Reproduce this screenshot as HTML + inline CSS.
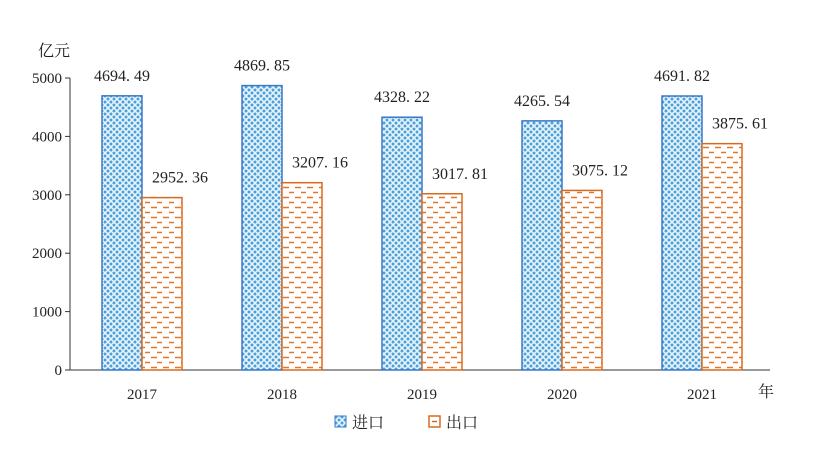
<!DOCTYPE html>
<html><head><meta charset="utf-8"><style>
body{margin:0;background:#fff;width:821px;height:451px;overflow:hidden}
svg text{font-family:"Liberation Serif","Noto Serif CJK SC",serif;fill:#222}
</style></head><body>
<svg id="c" width="821" height="451">
<defs>
<pattern id="hatch" width="6" height="6" patternUnits="userSpaceOnUse">
<rect width="6" height="6" fill="#4a9fd8"/>
<path d="M0 0L6 6M6 0L0 6" stroke="#e8f4fb" stroke-width="1.6"/>
</pattern>
<pattern id="dash" width="12" height="10" patternUnits="userSpaceOnUse">
<rect width="12" height="10" fill="#fff"/>
<path d="M1 2.5h5M7 7.5h5M0 7.5h1" stroke="#e07828" stroke-width="1.5"/>
</pattern>
</defs>
<g id="g"></g>
</svg>
<script>
const categories=["2017","2018","2019","2020","2021"];
const importVals=[4694.49,4869.85,4328.22,4265.54,4691.82];
const exportVals=[2952.36,3207.16,3017.81,3075.12,3875.61];
const yTicks=[0,1000,2000,3000,4000,5000];
const g=document.getElementById('g');
const NS='http://www.w3.org/2000/svg';
const x0=70,step=140,y0=370,yTop=78,ymax=5000;
const y=v=>y0-(v/ymax)*(y0-yTop);
const cx=i=>x0+step/2+i*step+2;
function mk(t,a,txt){const e=document.createElementNS(NS,t);for(const k in a)e.setAttribute(k,a[k]);if(txt!==undefined)e.textContent=txt;g.appendChild(e);return e;}
let e=mk('line',{x1:x0,y1:y0,x2:770,y2:y0,stroke:'#333','stroke-width':1});


e=mk('line',{x1:x0,y1:yTop,x2:x0,y2:y0,stroke:'#333','stroke-width':1});


yTicks.forEach(v=>{
 e=mk('line',{x1:x0-5,y1:y(v),x2:x0,y2:y(v),stroke:'#333'});
 
 
 e=mk('text',{x:x0-8,y:y(v)+5,'text-anchor':'end','font-size':15},String(v));
 
 
});
e=mk('text',{x:38,y:56,'font-size':16},'亿元');


e=mk('text',{x:758,y:397,'font-size':16},'年');


const fmt=v=>v.toFixed(2).replace('.','. ');
categories.forEach((c,i)=>{
 const c0=cx(i);
 e=mk('rect',{x:c0-40,y:y(importVals[i]),width:40,height:y0-y(importVals[i]),fill:'url(#hatch)',stroke:'#3a78c8','stroke-width':1.5});
 
 
 e=mk('rect',{x:c0,y:y(exportVals[i]),width:40,height:y0-y(exportVals[i]),fill:'url(#dash)',stroke:'#d86a20','stroke-width':1.5});
 
 
 e=mk('text',{x:c0-20,y:y(importVals[i])-15,'text-anchor':'middle','font-size':16},fmt(importVals[i]));
 
 
 e=mk('text',{x:c0+38,y:y(exportVals[i])-15,'text-anchor':'middle','font-size':16},fmt(exportVals[i]));
 
 
 e=mk('text',{x:c0,y:399,'text-anchor':'middle','font-size':15},c);
 
 
});
e=mk('rect',{x:335,y:416,width:11,height:11,fill:'url(#hatch)',stroke:'#3a78c8'});


e=mk('text',{x:352,y:428,'font-size':16},'进口');


e=mk('rect',{x:429,y:416,width:11,height:11,fill:'#fff',stroke:'#d86a20','stroke-width':1.5});


e=mk('line',{x1:432,y1:421.5,x2:437,y2:421.5,stroke:'#d86a20','stroke-width':1.5});


e=mk('text',{x:446,y:428,'font-size':16},'出口');


</script>
</body></html>
